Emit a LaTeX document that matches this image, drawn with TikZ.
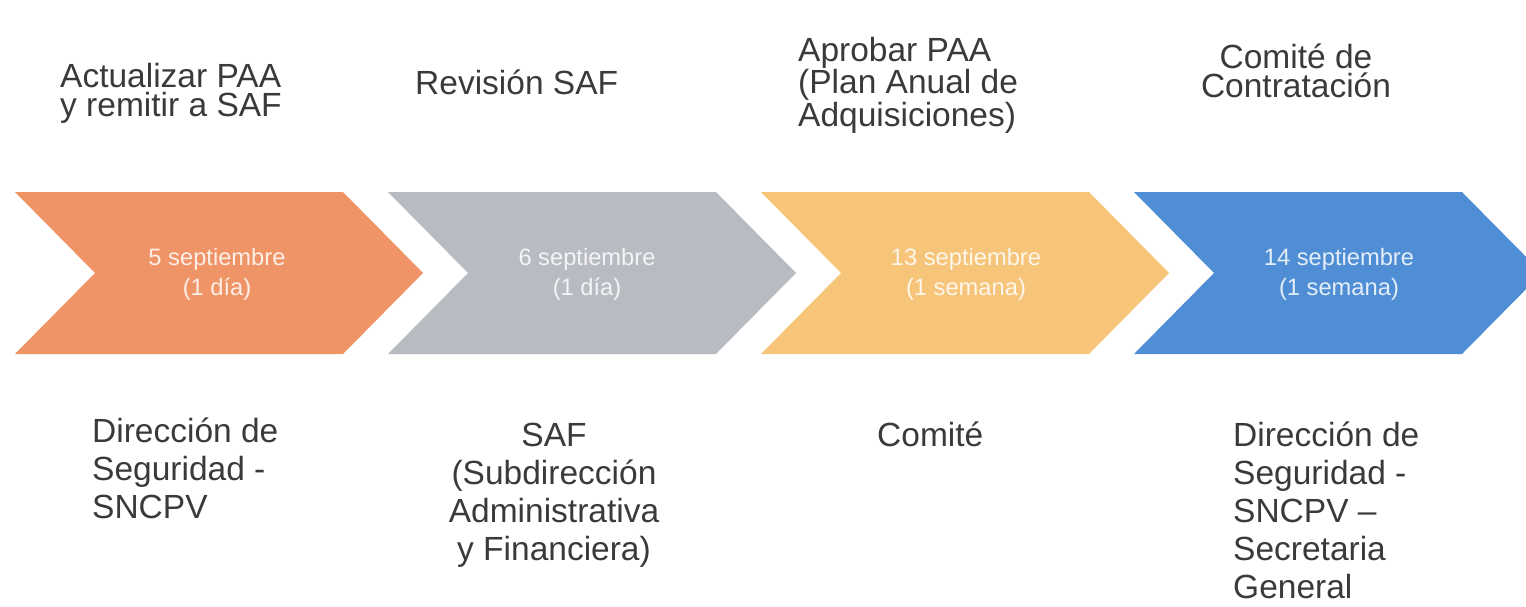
\documentclass[tikz,border=0pt]{standalone}
\usepackage{fontspec}
\setmainfont{Liberation Sans}
\usepackage{xcolor}

\definecolor{naranja}{HTML}{EF9467}
\definecolor{gris}{HTML}{B9BBC3}
\definecolor{amarillo}{HTML}{F6C57A}
\definecolor{azul}{HTML}{4F8ED4}
\definecolor{texto}{HTML}{3A3A3A}

\begin{document}
\begin{tikzpicture}[x=1pt, y=-1pt
  , fecha/.style={text=white, text opacity=.85, align=center, inner sep=0pt, font=\fontsize{23.7}{30}\selectfont}
  , etiq/.style={text=texto, inner sep=0pt, font=\fontsize{33.5}{29}\selectfont}
  , resp/.style={text=texto, inner sep=0pt, font=\fontsize{33.5}{38}\selectfont}
]
\useasboundingbox (0,0) rectangle (1526,606);
\clip (0,0) rectangle (1526,606);
% flechas
\foreach \c/\x in {naranja/15, gris/388, amarillo/761, azul/1134}
  \fill[\c] (\x,192) -- ++(328,0) -- ++(80,81) -- ++(-80,81) -- ++(-328,0) -- ++(80,-81) -- cycle;

\node[fecha] (f1) at (217,274) {5 septiembre\\(1 día)};
\node[fecha] (f2) at (587,274) {6 septiembre\\(1 día)};
\node[fecha] (f3) at (966,274) {13 septiembre\\(1 semana)};
\node[fecha] (f4) at (1339,274) {14 septiembre\\(1 semana)};

% base = ultima linea
\node[etiq, anchor=base west, align=left] (t1) at (60,116) {Actualizar PAA\\y remitir a SAF};
\node[etiq, anchor=base west] (t2) at (415,94) {Revisión SAF};
\node[etiq, anchor=base west, align=left, font=\fontsize{33.5}{26}\selectfont] (t3) at (798,126) {Aprobar PAA\\(Plan Anual de\\Adquisiciones)};
\node[etiq, anchor=base, align=center] (t4) at (1296,97) {Comité de\\Contratación};

\node[resp, anchor=base west, align=left] (r1) at (92,518) {Dirección de\\Seguridad -\\SNCPV};
\node[resp, anchor=base, align=center] (r2) at (554,560) {SAF\\(Subdirección\\Administrativa\\y Financiera)};
\node[resp, anchor=base west] (r3) at (877,446) {Comité};
\node[resp, anchor=base west, align=left] (r4) at (1233,598) {Dirección de\\Seguridad -\\SNCPV –\\Secretaria\\General};
\end{tikzpicture}
\end{document}
